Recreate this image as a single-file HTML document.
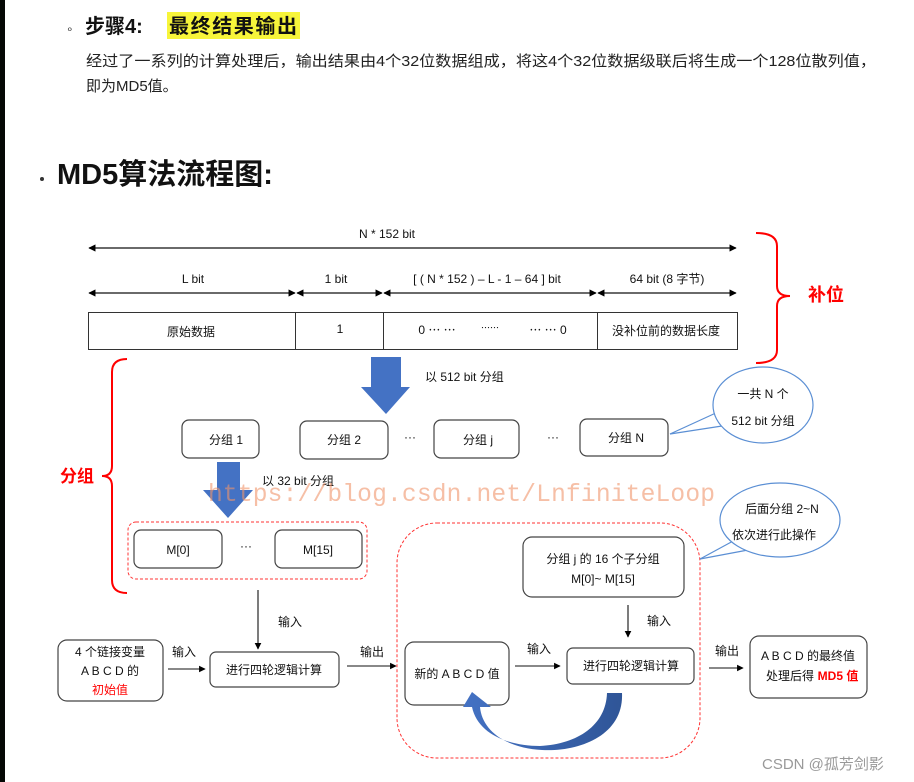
<!DOCTYPE html>
<html><head><meta charset="utf-8"><style>
html,body{margin:0;padding:0;background:#fff;}
body{width:914px;height:782px;overflow:hidden;position:relative;font-family:"Liberation Sans","Noto Sans CJK SC",sans-serif;}
</style></head><body>
<svg width="914" height="782" viewBox="0 0 914 782" xmlns="http://www.w3.org/2000/svg" style="position:absolute;left:0;top:0" font-family="Liberation Sans, Noto Sans CJK SC, sans-serif">
<defs>
<marker id="ah" viewBox="0 0 10 10" refX="9" refY="5" markerWidth="6" markerHeight="6" orient="auto-start-reverse"><path d="M0,0 L10,5 L0,10 z" fill="#000"/></marker>
<linearGradient id="bg" x1="0" y1="0" x2="1" y2="0"><stop offset="0" stop-color="#4472c4"/><stop offset="1" stop-color="#2f5597"/></linearGradient>
</defs>
<rect x="0" y="0" width="5" height="782" fill="#050805"/>
<text x="66" y="33" font-size="12" fill="#333">∘</text>
<text x="85" y="33" font-size="20" font-weight="bold" fill="#111">步骤4:</text>
<rect x="167" y="12" width="133" height="27" fill="#f7f53a"/>
<text x="169" y="33" font-size="20" font-weight="bold" fill="#111" textLength="128">最终结果输出</text>
<text x="86" y="66" font-size="15" fill="#222" textLength="790" lengthAdjust="spacingAndGlyphs">经过了一系列的计算处理后，输出结果由4个32位数据组成，将这4个32位数据级联后将生成一个128位散列值，</text>
<text x="86" y="91" font-size="15" fill="#222">即为MD5值。</text>
<circle cx="42" cy="179" r="2" fill="#333"/>
<text x="57" y="184" font-size="29" font-weight="bold" fill="#111">MD5算法流程图:</text>
<g font-size="12" fill="#111" text-anchor="middle">
<text x="387" y="238">N * 152 bit</text>
<text x="193" y="283">L bit</text>
<text x="336" y="283">1 bit</text>
<text x="487" y="283">[ ( N * 152 ) – L - 1 – 64 ] bit</text>
<text x="667" y="283">64 bit (8 字节)</text>
</g>
<g stroke="#111" stroke-width="1.2" marker-start="url(#ah)" marker-end="url(#ah)">
<line x1="89" y1="248" x2="736" y2="248"/>
<line x1="89" y1="293" x2="295" y2="293"/>
<line x1="297" y1="293" x2="382" y2="293"/>
<line x1="384" y1="293" x2="596" y2="293"/>
<line x1="598" y1="293" x2="736" y2="293"/>
</g>
<rect x="88.5" y="312.5" width="649" height="37" fill="none" stroke="#333"/>
<g stroke="#333"><line x1="295.5" y1="312" x2="295.5" y2="350"/><line x1="383.5" y1="312" x2="383.5" y2="350"/><line x1="597.5" y1="312" x2="597.5" y2="350"/></g>
<g font-size="12" fill="#111" text-anchor="middle">
<text x="191" y="336">原始数据</text>
<text x="340" y="333">1</text>
<text x="437" y="334">0 ⋯ ⋯</text><text x="490" y="331" font-size="9">⋯⋯</text><text x="548" y="334">⋯ ⋯ 0</text>
<text x="666" y="335">没补位前的数据长度</text>
</g>
<path d="M756,233 Q777,233 777,246 L777,286 Q777,296 790,296 Q777,296 777,306 L777,350 Q777,363 756,363" fill="none" stroke="#f00" stroke-width="2"/>
<text x="808" y="301" font-size="18" font-weight="bold" fill="#f00">补位</text>
<path d="M371,357 H401 V387 H410 L386,414 L361,387 H371 Z" fill="#4472c4"/>
<text x="425" y="381" font-size="12" fill="#111">以 512 bit 分组</text>
<g fill="#fff" stroke="#444" stroke-width="1.2">
<rect x="182" y="420" width="77" height="38" rx="7"/>
<rect x="300" y="421" width="88" height="38" rx="7"/>
<rect x="434" y="420" width="85" height="38" rx="7"/>
<rect x="580" y="419" width="88" height="37" rx="7"/>
</g>
<g font-size="12" fill="#111" text-anchor="middle">
<text x="226" y="444">分组 1</text>
<text x="344" y="444">分组 2</text>
<text x="410" y="441">···</text>
<text x="478" y="444">分组 j</text>
<text x="553" y="441">···</text>
<text x="626" y="442">分组 N</text>
</g>
<!-- bubble 1 -->
<g stroke="#5b8fd4" stroke-width="1.2"><line x1="718" y1="412" x2="670" y2="434"/><line x1="722" y1="426" x2="670" y2="434"/></g>
<ellipse cx="763" cy="405" rx="50" ry="38" fill="#fff" stroke="#5b8fd4" stroke-width="1.2"/>
<text x="763" y="398" font-size="12" text-anchor="middle" fill="#111">一共 N 个</text>
<text x="763" y="425" font-size="12" text-anchor="middle" fill="#111">512 bit 分组</text>
<path d="M127,359 Q112,359 112,372 L112,466 Q112,476 102,476 Q112,476 112,486 L112,580 Q112,593 127,593" fill="none" stroke="#f00" stroke-width="2"/>
<text x="60" y="482" font-size="17" font-weight="bold" fill="#f00">分组</text>
<path d="M217,462 H240 V490 H253 L228,518 L203,490 H217 Z" fill="#4472c4"/>
<text x="262" y="485" font-size="12" fill="#111">以 32 bit 分组</text>
<rect x="128" y="522" width="239" height="57" rx="8" fill="none" stroke="#f33" stroke-dasharray="3,2"/>
<g fill="#fff" stroke="#444" stroke-width="1.2">
<rect x="134" y="530" width="88" height="38" rx="7"/>
<rect x="275" y="530" width="87" height="38" rx="7"/>
</g>
<text x="178" y="554" font-size="12" text-anchor="middle" fill="#111">M[0]</text>
<text x="246" y="550" font-size="12" text-anchor="middle" fill="#111">···</text>
<text x="318" y="554" font-size="12" text-anchor="middle" fill="#111">M[15]</text>
<text x="208" y="501" font-family="Liberation Mono, monospace" font-size="24.6" fill="#f0956a" fill-opacity="0.6" textLength="507">https://blog.csdn.net/LnfiniteLoop</text>
<g stroke="#111" stroke-width="1.1" marker-end="url(#ah)">
<line x1="258" y1="590" x2="258" y2="649"/>
<line x1="168" y1="669" x2="205" y2="669"/>
<line x1="347" y1="666" x2="396" y2="666"/>
<line x1="628" y1="605" x2="628" y2="637"/>
<line x1="515" y1="666" x2="560" y2="666"/>
<line x1="709" y1="668" x2="743" y2="668"/>
</g>
<g font-size="12" fill="#111">
<text x="278" y="626">输入</text>
<text x="172" y="656">输入</text>
<text x="360" y="656">输出</text>
<text x="647" y="625">输入</text>
<text x="527" y="653">输入</text>
<text x="715" y="655">输出</text>
</g>
<rect x="397" y="523" width="303" height="235" rx="40" fill="none" stroke="#f33" stroke-dasharray="3,2"/>
<g fill="#fff" stroke="#444" stroke-width="1.2">
<rect x="58" y="640" width="105" height="61" rx="9"/>
<rect x="210" y="652" width="129" height="35" rx="6"/>
<rect x="523" y="537" width="161" height="60" rx="9"/>
<rect x="405" y="642" width="104" height="63" rx="9"/>
<rect x="567" y="648" width="127" height="36" rx="6"/>
<rect x="750" y="636" width="117" height="62" rx="9"/>
</g>
<g font-size="12" fill="#111" text-anchor="middle">
<text x="110" y="656">4 个链接变量</text>
<text x="110" y="675">A B C D 的</text>
<text x="110" y="694" fill="#f00">初始值</text>
<text x="274" y="674">进行四轮逻辑计算</text>
<text x="603" y="563">分组 j 的 16 个子分组</text>
<text x="603" y="583">M[0]~ M[15]</text>
<text x="457" y="678">新的 A B C D 值</text>
<text x="631" y="670">进行四轮逻辑计算</text>
<text x="808" y="660">A B C D 的最终值</text>
<text x="790" y="680">处理后得</text><text x="838" y="680" fill="#f00" font-weight="bold">MD5 值</text>
</g>
<path d="M607,693 L622,693 C624,735 580,752 542,750 C505,748 482,730 480,707 L491,707 L472,692 L463,707 L472,707 C478,735 510,746 540,746 C578,744 606,725 607,693 Z" fill="url(#bg)"/>
<!-- bubble 2 -->
<g stroke="#5b8fd4" stroke-width="1.2"><line x1="735" y1="540" x2="700" y2="559"/><line x1="748" y1="550" x2="700" y2="559"/></g>
<ellipse cx="780" cy="520" rx="60" ry="37" fill="#fff" stroke="#5b8fd4" stroke-width="1.2"/>
<text x="782" y="513" font-size="12" text-anchor="middle" fill="#111">后面分组 2~N</text>
<text x="774" y="539" font-size="12" text-anchor="middle" fill="#111">依次进行此操作</text>
<text x="762" y="769" font-size="15" fill="#999">CSDN @孤芳剑影</text>
</svg>
</body></html>
